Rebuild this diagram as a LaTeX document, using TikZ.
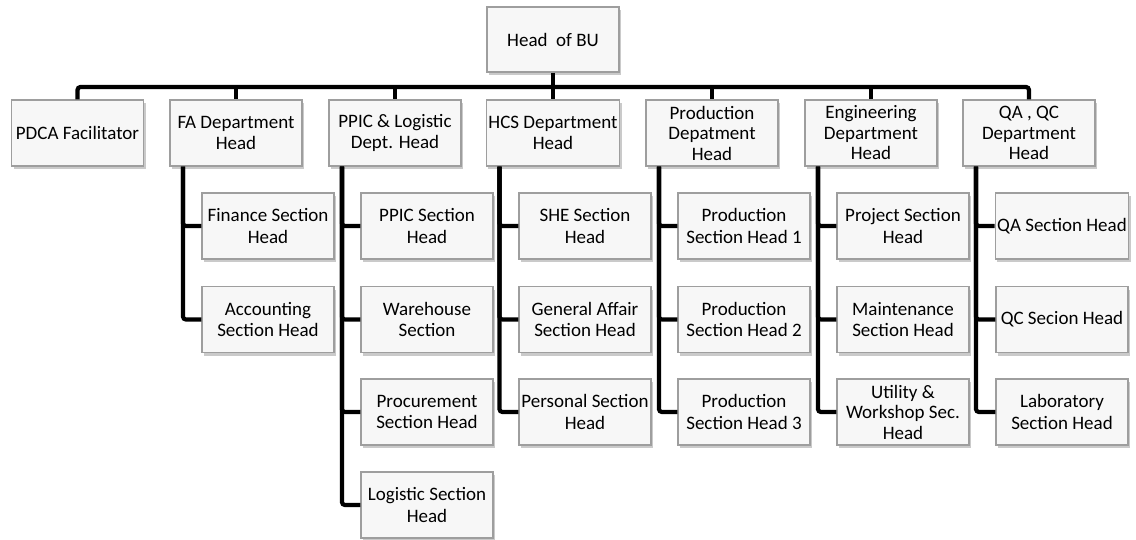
\documentclass[tikz,border=0pt]{standalone}
\usepackage{fontspec}
\setmainfont{Carlito}
\usetikzlibrary{shadows,calc}
\begin{document}
\begin{tikzpicture}[x=1pt,y=-1pt,
  box/.style={draw=black!38, line width=1.1pt, fill=black!3, minimum width=132pt, minimum height=66pt,
    align=center, inner sep=2pt, font=\fontsize{19}{21.5}\selectfont,
    drop shadow={shadow xshift=2pt, shadow yshift=-3pt, opacity=0.35, fill=black!60}},
  conn/.style={line width=4.2pt, black, rounded corners=3pt}]
\useasboundingbox (0,0) rectangle (1136,539);
% top
\node[box, minimum height=65pt] (bu) at (553,39.5) {Head\ \ of BU};
% departments
\node[box] (pdca) at (77.5,133) {PDCA Facilitator};
\node[box] (fa) at (236,133) {FA Department\\Head};
\node[box] (ppic) at (395,133) {PPIC \& Logistic\\Dept. Head};
\node[box] (hcs) at (553,133) {HCS Department\\Head};
\node[box, font=\fontsize{19}{20.5}\selectfont] (prod) at (712,133) {Production\\Depatment\\Head};
\node[box, font=\fontsize{19}{20.5}\selectfont] (eng) at (871,133) {Engineering\\Department\\Head};
\node[box, font=\fontsize{19}{20.5}\selectfont] (qa) at (1029,133) {QA , QC\\Department\\Head};
% children
\node[box] (fa1) at (268,226) {Finance Section\\Head};
\node[box] (fa2) at (268,319.5) {Accounting\\Section Head};
\node[box] (pp1) at (427,226) {PPIC Section\\Head};
\node[box] (pp2) at (427,319.5) {Warehouse\\Section};
\node[box] (pp3) at (427,412) {Procurement\\Section Head};
\node[box] (pp4) at (427,505) {Logistic Section\\Head};
\node[box] (hc1) at (585,226) {SHE Section\\Head};
\node[box] (hc2) at (585,319.5) {General Affair\\Section Head};
\node[box] (hc3) at (585,412) {Personal Section\\Head};
\node[box] (pr1) at (744,226) {Production\\Section Head 1};
\node[box] (pr2) at (744,319.5) {Production\\Section Head 2};
\node[box] (pr3) at (744,412) {Production\\Section Head 3};
\node[box] (en1) at (903,226) {Project Section\\Head};
\node[box] (en2) at (903,319.5) {Maintenance\\Section Head};
\node[box, font=\fontsize{19}{20.5}\selectfont] (en3) at (903,412) {Utility \&\\Workshop Sec.\\Head};
\node[box] (qa1) at (1062,226) {QA Section Head};
\node[box] (qa2) at (1062,319.5) {QC Secion Head};
\node[box] (qa3) at (1062,412) {Laboratory\\Section Head};
% bus
\coordinate (bus) at (553,87);
\draw[conn] (bu.south) -- (bus);
\draw[conn] (pdca.north) -- (pdca.north|-bus) -- (qa.north|-bus) -- (qa.north);
\foreach \d in {fa,ppic,hcs,prod,eng}{
  \draw[conn] (\d.north|-bus) -- (\d.north);
}
% spines
\foreach \d/\c in {fa/fa1,fa/fa2,ppic/pp1,ppic/pp2,ppic/pp3,ppic/pp4,hcs/hc1,hcs/hc2,hcs/hc3,prod/pr1,prod/pr2,prod/pr3,eng/en1,eng/en2,eng/en3,qa/qa1,qa/qa2,qa/qa3}{
  \draw[conn] ([xshift=13.5pt]\d.south west) |- (\c.west);
}
\end{tikzpicture}
\end{document}
